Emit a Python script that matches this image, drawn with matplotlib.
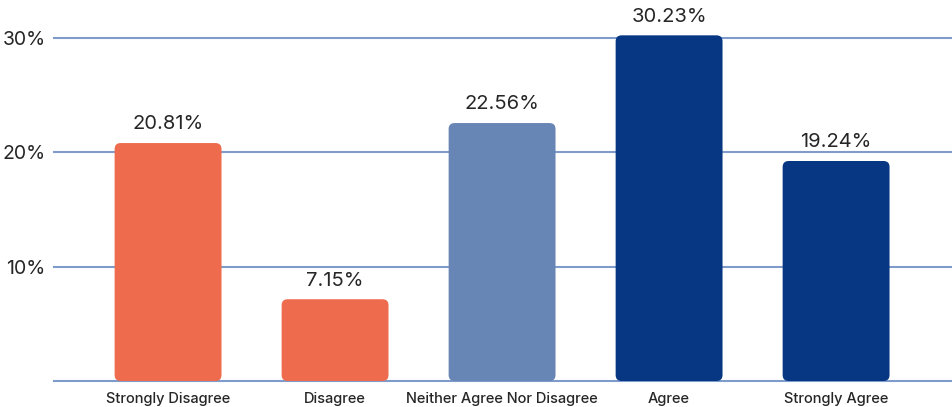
import matplotlib
matplotlib.use("Agg")
import matplotlib.pyplot as plt
from matplotlib.patches import FancyBboxPatch

# Data
categories = ["Strongly Disagree", "Disagree", "Neither Agree Nor Disagree", "Agree", "Strongly Agree"]
values = [20.81, 7.15, 22.56, 30.23, 19.24]
colors = ["#EE6B4D", "#EE6B4D", "#6886B5", "#073682", "#073682"]
yticks = [10, 20, 30]

plt.rcParams["font.family"] = ["Inter", "DejaVu Sans"]

fig = plt.figure(figsize=(9.53, 4.07), dpi=100)
ax = fig.add_axes([54 / 953, 26 / 407, 899 / 953, 381 / 407])

ax.set_xlim(-0.683, 4.70)
ax.set_ylim(0, 33.32)

# Gridlines
for v in [0] + yticks:
    ax.axhline(v, color="#7F9BCB", lw=1.5, zorder=1, clip_on=False)

bars = ax.bar(range(len(values)), values, width=0.64, color=colors, zorder=2)

# rounded corners
px_x = 899 / (4.70 + 0.683)
px_y = 381 / 33.32
r = 6 / px_x
for b in bars:
    b.set_visible(False)
    p = FancyBboxPatch((b.get_x(), b.get_y()), b.get_width(), b.get_height(),
                       boxstyle=f"round,pad=0,rounding_size={r}",
                       mutation_aspect=px_x / px_y,
                       facecolor=b.get_facecolor(), edgecolor="none", zorder=2)
    ax.add_patch(p)

for i, v in enumerate(values):
    ax.annotate(f"{v:.2f}%", (i, v), xytext=(0, 7), textcoords="offset points",
                ha="center", va="bottom", fontsize=14.5, color="#262626")

ax.set_xticks(range(len(categories)))
ax.set_xticklabels(categories, fontsize=10.5, color="#262626", fontweight="medium")
ax.set_yticks(yticks)
ax.set_yticklabels([f"{t}%" for t in yticks], fontsize=14, color="#262626")
ax.tick_params(axis="both", length=0)
ax.tick_params(axis="x", pad=8)
ax.tick_params(axis="y", pad=6)
for s in ax.spines.values():
    s.set_visible(False)

fig.savefig("out.png", dpi=100)
